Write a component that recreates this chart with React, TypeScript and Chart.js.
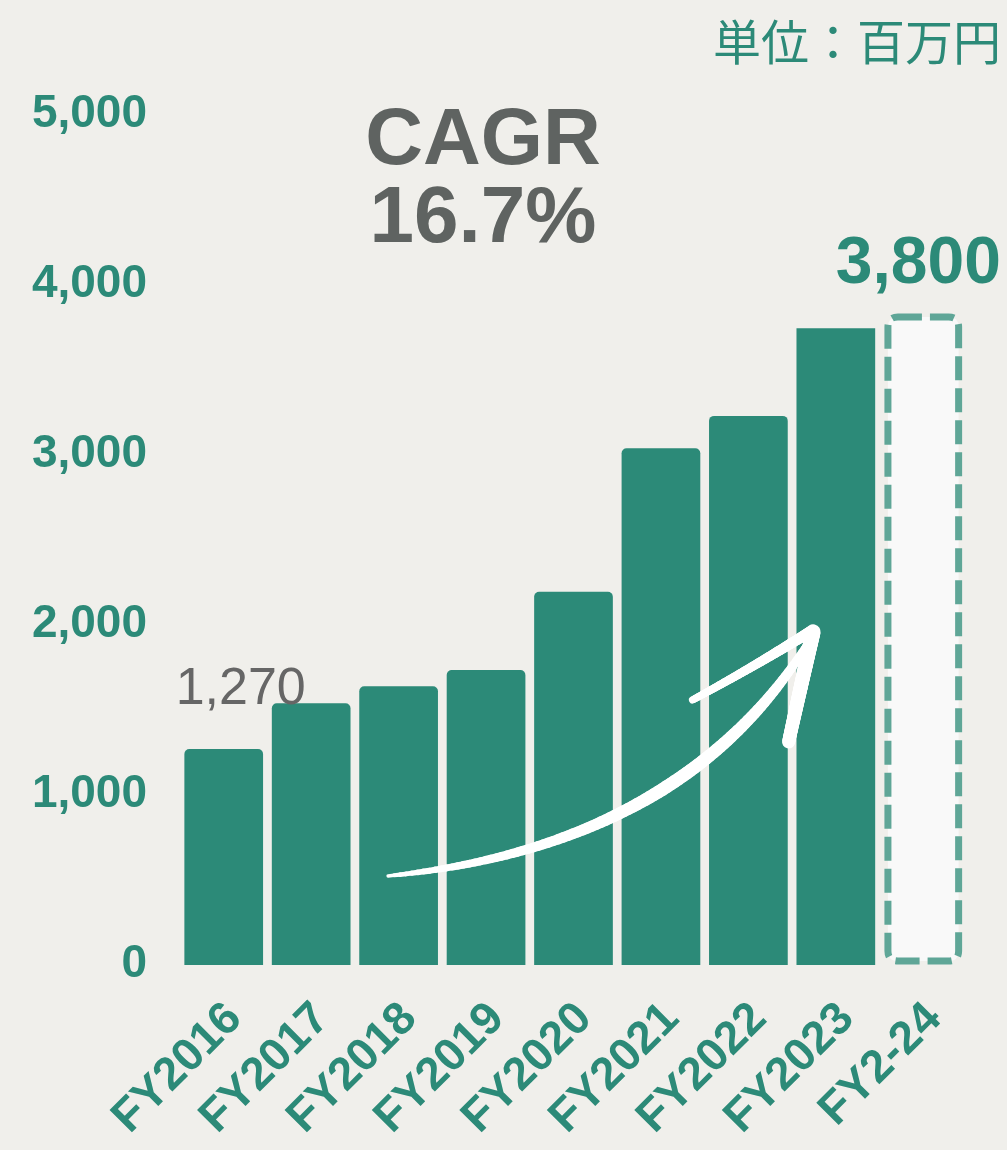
import React, { useEffect, useRef } from 'react';
import { Chart, registerables } from 'chart.js';

Chart.register(...registerables);

// ---- data ----
const categories = ['FY2016', 'FY2017', 'FY2018', 'FY2019', 'FY2020', 'FY2021', 'FY2022', 'FY2023', 'FY2-24'];
const actualValues = [1270, 1540, 1640, 1735, 2195, 3040, 3230, 3745, null];
const forecastValues = [null, null, null, null, null, null, null, null, 3800];
const yTickValues = [0, 1000, 2000, 3000, 4000, 5000];
const cagrTitle = 'CAGR';
const cagrValue = '16.7%';
const unitLabel = '単位：百万円';
const firstLabel = '1,270';
const forecastLabel = '3,800';

// arrow annotation anchors in (category index, value) space
const arrowCurve = [[1.88, 524], [5.33, 706], [6.76, 1959]];
const arrowHeadUpper = [[5.36, 1559], [6.05, 1750], [6.72, 1965]];
const arrowHeadLower = [[6.46, 1312], [6.6, 1640], [6.74, 1960]];

const TEAL = '#2c8a78';
const GRAY = '#5f6361';
const BG = '#f0efeb';
const FONT = '"Liberation Sans", Arial, sans-serif';

function quad(p0: number[], p1: number[], p2: number[], t: number) {
  const a = (1 - t) * (1 - t), b = 2 * t * (1 - t), c = t * t;
  return [a * p0[0] + b * p1[0] + c * p2[0], a * p0[1] + b * p1[1] + c * p2[1]];
}

function taperedStroke(ctx: CanvasRenderingContext2D, pts: number[][], width: (t: number) => number) {
  const N = 100;
  let prev = quad(pts[0], pts[1], pts[2], 0);
  for (let i = 1; i <= N; i++) {
    const t = i / N;
    const p = quad(pts[0], pts[1], pts[2], t);
    ctx.beginPath();
    ctx.lineWidth = width(t);
    ctx.moveTo(prev[0], prev[1]);
    ctx.lineTo(p[0], p[1]);
    ctx.stroke();
    prev = p;
  }
}

const annotationPlugin = {
  id: 'annotations',
  afterDatasetsDraw(chart: any) {
    const ctx: CanvasRenderingContext2D = chart.ctx;
    const xs = chart.scales.x;
    const ys = chart.scales.y;
    const toPx = (p: number[]) => [xs.getPixelForValue(p[0]), ys.getPixelForValue(p[1])];

    // dashed forecast bar
    const meta = chart.getDatasetMeta(1);
    const fi = forecastValues.findIndex((v) => v !== null);
    const el: any = meta.data[fi];
    if (el) {
      const w = el.width;
      const x0 = el.x - w / 2 + 4;
      const x1 = el.x + w / 2 - 4;
      const y0 = el.y - 2;
      const y1 = el.base - 4;
      const r = 10;
      ctx.save();
      ctx.beginPath();
      ctx.moveTo(x0 + r, y0);
      ctx.lineTo(x1 - r, y0);
      ctx.quadraticCurveTo(x1, y0, x1, y0 + r);
      ctx.lineTo(x1, y1 - r);
      ctx.quadraticCurveTo(x1, y1, x1 - r, y1);
      ctx.lineTo(x0 + r, y1);
      ctx.quadraticCurveTo(x0, y1, x0, y1 - r);
      ctx.lineTo(x0, y0 + r);
      ctx.quadraticCurveTo(x0, y0, x0 + r, y0);
      ctx.closePath();
      ctx.fillStyle = '#f9f9f9';
      ctx.fill();
      ctx.setLineDash([24, 8]);
      ctx.lineWidth = 7;
      ctx.strokeStyle = '#5fa697';
      ctx.stroke();
      ctx.restore();

      ctx.save();
      ctx.fillStyle = TEAL;
      ctx.font = `bold 66px ${FONT}`;
      ctx.textAlign = 'center';
      ctx.textBaseline = 'alphabetic';
      ctx.fillText(forecastLabel, el.x - 5, el.y - 36);
      ctx.restore();
    }

    // first bar label
    const m0 = chart.getDatasetMeta(0);
    const b0: any = m0.data[0];
    if (b0) {
      ctx.save();
      ctx.fillStyle = '#666666';
      ctx.font = `52px ${FONT}`;
      ctx.textAlign = 'center';
      ctx.textBaseline = 'alphabetic';
      ctx.fillText(firstLabel, b0.x + 17, b0.y - 45);
      ctx.restore();
    }

    // arrow
    ctx.save();
    ctx.strokeStyle = '#ffffff';
    ctx.lineCap = 'round';
    ctx.lineJoin = 'round';
    taperedStroke(ctx, arrowCurve.map(toPx), (t) =>
      t < 0.55 ? 2 + 11 * Math.pow(t / 0.55, 0.5) : 13 - 6 * Math.pow((t - 0.55) / 0.45, 2)
    );
    taperedStroke(ctx, arrowHeadUpper.map(toPx), (t) => 7 + 4 * t);
    taperedStroke(ctx, arrowHeadLower.map(toPx), (t) => 13 + 2 * t);
    ctx.restore();

    // titles
    ctx.save();
    ctx.fillStyle = GRAY;
    ctx.font = `bold 80px ${FONT}`;
    ctx.textAlign = 'center';
    ctx.textBaseline = 'alphabetic';
    ctx.fillText(cagrTitle, 483, 164);
    ctx.fillText(cagrValue, 483, 242);
    ctx.restore();

    ctx.save();
    ctx.fillStyle = TEAL;
    ctx.font = `48px "Noto Sans CJK JP", sans-serif`;
    ctx.textAlign = 'right';
    ctx.textBaseline = 'middle';
    ctx.fillText(unitLabel, 1001, 42);
    ctx.restore();
  },
};

export default function App() {
  const ref = useRef<HTMLCanvasElement | null>(null);
  useEffect(() => {
    if (!ref.current) return;
    const chart = new Chart(ref.current, {
      type: 'bar',
      data: {
        labels: categories,
        datasets: [
          {
            data: actualValues as any,
            backgroundColor: TEAL,
            borderWidth: 0,
            borderRadius: (c: any) => (c.dataIndex === 7 ? 0 : { topLeft: 5, topRight: 5, bottomLeft: 0, bottomRight: 0 }),
            borderSkipped: 'bottom',
            barPercentage: 0.9,
            categoryPercentage: 1,
          },
          {
            data: forecastValues as any,
            backgroundColor: 'rgba(0,0,0,0)',
            borderWidth: 0,
            barPercentage: 0.9,
            categoryPercentage: 1,
          },
        ],
      },
      options: {
        responsive: false,
        animation: false,
        devicePixelRatio: 1,
        layout: { padding: { left: 30, right: 40, top: 115, bottom: 0 } },
        plugins: { legend: { display: false }, tooltip: { enabled: false }, title: { display: false } },
        scales: {
          x: {
            stacked: true,
            grid: { display: false, drawTicks: false },
            border: { display: false },
            afterFit: (s: any) => { s.height = 185; },
            ticks: {
              color: TEAL,
              font: { family: FONT, size: 46, weight: 'bold' },
              minRotation: 45,
              maxRotation: 45,
              autoSkip: false,
              padding: 27,
              labelOffset: 11,
            },
          },
          y: {
            stacked: true,
            min: 0,
            max: 5000,
            grid: { display: false, drawTicks: false },
            border: { display: false },
            afterFit: (s: any) => { s.width = 150; },
            afterBuildTicks: (s: any) => { s.ticks = yTickValues.map((v) => ({ value: v })); },
            ticks: {
              color: TEAL,
              font: { family: FONT, size: 46, weight: 'bold' },
              padding: 33,
              labelOffset: -1,
              callback: (v: any) => Number(v).toLocaleString('en-US'),
            },
          },
        },
      },
      plugins: [annotationPlugin],
    });
    return () => chart.destroy();
  }, []);
  return (
    <div style={{ position: 'fixed', left: 0, top: 0, width: 1007, height: 1150, background: BG }}>
      <canvas ref={ref} width={1007} height={1150} style={{ display: 'block' }} />
    </div>
  );
}
